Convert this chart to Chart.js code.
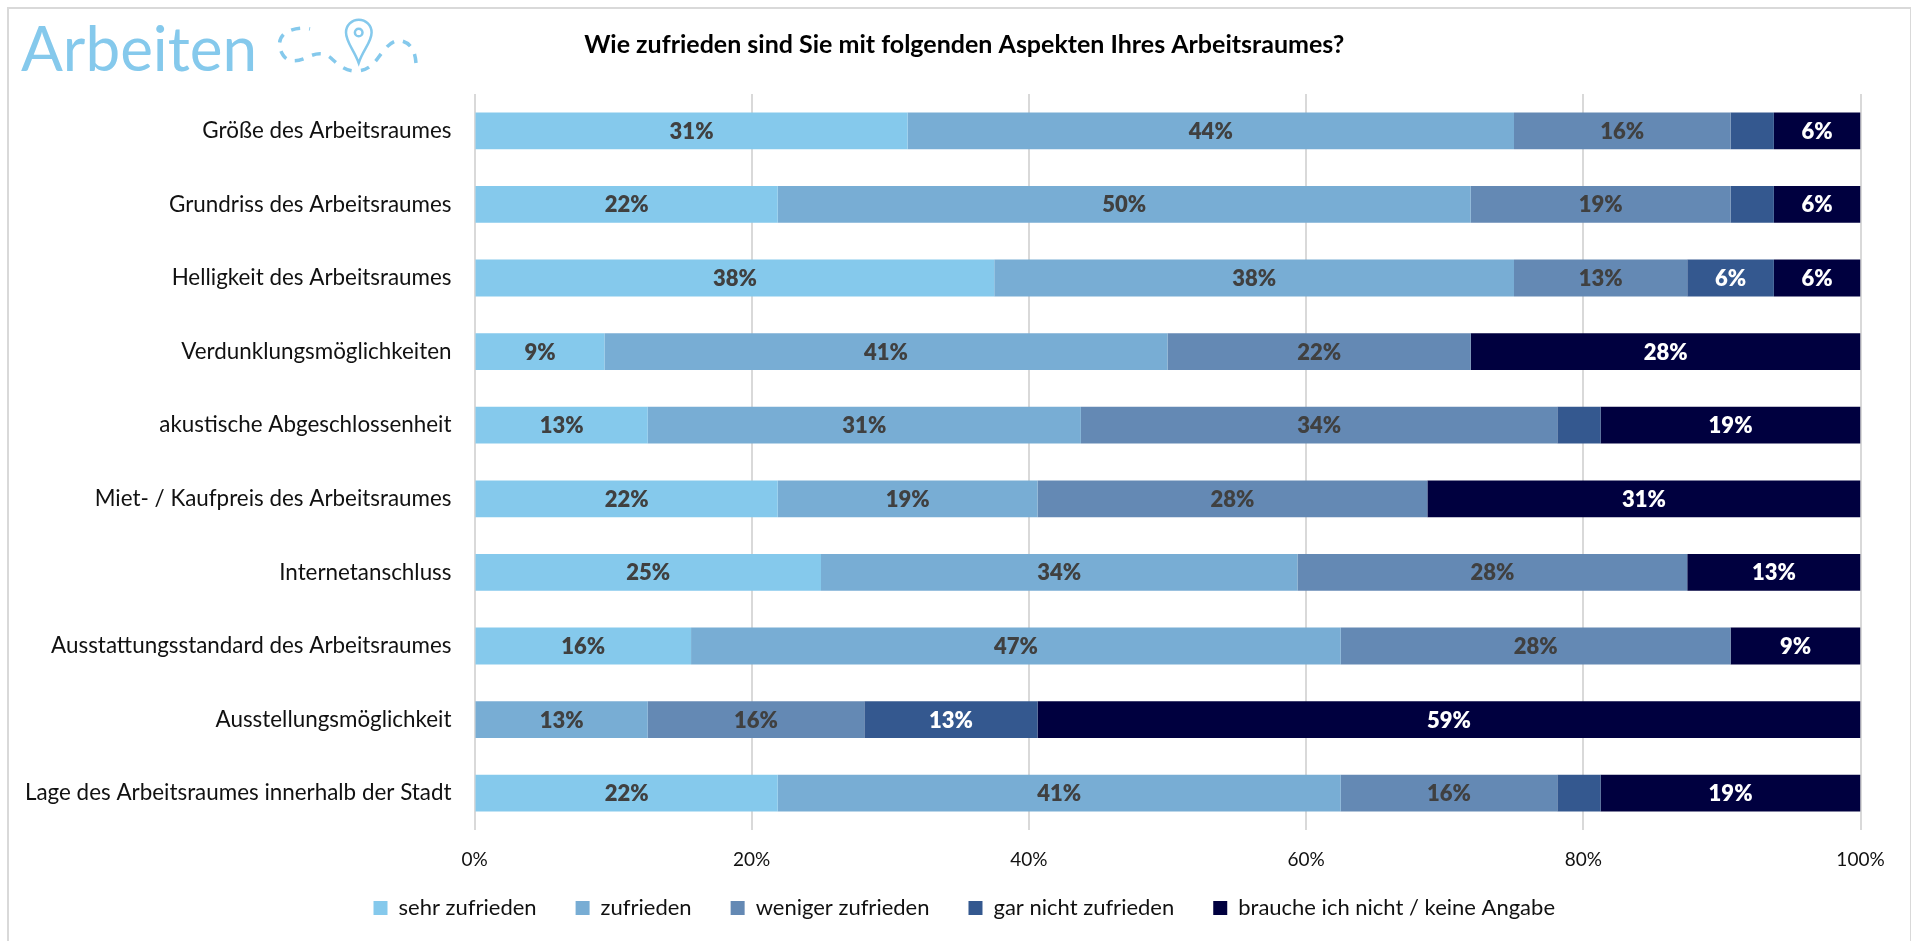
<!DOCTYPE html>
<html lang="de">
<head>
    <meta charset="UTF-8">
    <title>Arbeiten - Zufriedenheit mit dem Arbeitsraum</title>
    <script src="https://cdn.jsdelivr.net/npm/chart.js"></script>
    <style>
        html, body { margin: 0; background: #fff; overflow: hidden; }
        #wrap { position: relative; width: 1913px; height: 941px; }
        #frame {
            position: absolute; left: 7px; top: 7px; width: 1904px; height: 934px;
            border: solid #d9d9d9; border-width: 2px 1px 0 2px; box-sizing: border-box;
        }
        #logo {
            position: absolute; left: 21px; top: 8px;
            font: 400 62px Lato, sans-serif; color: #85c9ec; line-height: 78px;
        }
        #route { position: absolute; left: 0; top: 0; }
    </style>
</head>
<body>
<div id="wrap">
    <div id="frame"></div>
    <canvas id="chart" width="1913" height="941"></canvas>
    <div id="logo">Arbeiten</div>
    <svg id="route" width="440" height="80" fill="none" stroke="#85c9ec">
        <path d="M416 63 C415 50 410 43 402 41 C392 38 384 50 378 58 C372 66 366 71 356 71 C344 71 338 64 332 59 C326 53 318 52 308 57 C298 62 288 63 283 55 C277 46 279 36 287 32 C293 29 301 27 310 29"
              stroke-width="3.5" stroke-dasharray="9 9"/>
        <path d="M358.7 63 C354 50 346 42 346 32.5 A12.8 12.8 0 0 1 371.6 32.5 C371.6 42 363 50 358.7 63 Z" stroke-width="2.5"/>
        <circle cx="358.7" cy="32.5" r="3.8" stroke-width="2.5"/>
    </svg>
</div>

<script>
    const categories = [
        'Größe des Arbeitsraumes',
        'Grundriss des Arbeitsraumes',
        'Helligkeit des Arbeitsraumes',
        'Verdunklungsmöglichkeiten',
        'akustische Abgeschlossenheit',
        'Miet- / Kaufpreis des Arbeitsraumes',
        'Internetanschluss',
        'Ausstattungsstandard des Arbeitsraumes',
        'Ausstellungsmöglichkeit',
        'Lage des Arbeitsraumes innerhalb der Stadt'
    ];

    // Anteile in Prozent, eine Liste pro Antwort
    const sehrZufrieden = [31.25, 21.875, 37.5, 9.375, 12.5, 21.875, 25, 15.625, 0, 21.875];
    const zufrieden = [43.75, 50, 37.5, 40.625, 31.25, 18.75, 34.375, 46.875, 12.5, 40.625];
    const wenigerZufrieden = [15.625, 18.75, 12.5, 21.875, 34.375, 28.125, 28.125, 28.125, 15.625, 15.625];
    const garNichtZufrieden = [3.125, 3.125, 6.25, 0, 3.125, 0, 0, 0, 12.5, 3.125];
    const keineAngabe = [6.25, 6.25, 6.25, 28.125, 18.75, 31.25, 12.5, 9.375, 59.375, 18.75];

    const seriesNames = ['sehr zufrieden', 'zufrieden', 'weniger zufrieden', 'gar nicht zufrieden', 'brauche ich nicht / keine Angabe'];
    const seriesColors = ['#85c9ec', '#78add4', '#6489b4', '#34588f', '#00003f'];
    const seriesValues = [sehrZufrieden, zufrieden, wenigerZufrieden, garNichtZufrieden, keineAngabe];
    const labelColors = ['#404040', '#404040', '#404040', '#ffffff', '#ffffff'];

    const fontFamily = 'Lato, sans-serif';

    // Schmale Segmente bekommen keine Beschriftung
    const minLabelValue = 5;

    const barLabels = {
        id: 'barLabels',
        // Achsenbeschriftungen duerfen ueber die schmalen Achsenboxen hinausragen
        afterLayout(chart) {
            chart.scales.y.left = 0;
            chart.scales.x.bottom = chart.height;
        },
        afterDatasetsDraw(chart) {
            const ctx = chart.ctx;
            ctx.save();
            ctx.font = '800 22px ' + fontFamily;
            ctx.textAlign = 'center';
            ctx.textBaseline = 'middle';
            chart.data.datasets.forEach((dataset, i) => {
                chart.getDatasetMeta(i).data.forEach((bar, j) => {
                    const value = dataset.data[j];
                    if (value < minLabelValue) return;
                    const center = bar.getCenterPoint();
                    ctx.fillStyle = labelColors[i];
                    ctx.fillText(Math.round(value) + '%', center.x, center.y + 1);
                });
            });
            ctx.restore();
        }
    };

    new Chart(document.getElementById('chart'), {
        type: 'bar',
        data: {
            labels: categories,
            datasets: seriesNames.map((name, i) => ({
                label: name,
                data: seriesValues[i],
                backgroundColor: seriesColors[i],
                barPercentage: 1,
                categoryPercentage: 0.5
            }))
        },
        plugins: [barLabels],
        options: {
            indexAxis: 'y',
            responsive: false,
            animation: false,
            layout: { padding: { left: 68, right: 52.5, top: 0, bottom: 12 } },
            scales: {
                x: {
                    stacked: true,
                    min: 0,
                    max: 100,
                    grid: { color: '#d9d9d9', lineWidth: 2, drawTicks: false },
                    border: { display: false },
                    afterFit(scale) { scale.height = 28; },
                    ticks: {
                        stepSize: 20,
                        padding: 18,
                        color: '#111',
                        maxRotation: 0,
                        font: { family: fontFamily, size: 19 },
                        callback: value => value + '%'
                    }
                },
                y: {
                    stacked: true,
                    grid: { display: false },
                    border: { display: false },
                    afterFit(scale) { scale.width = 406.5; },
                    ticks: {
                        padding: 15,
                        color: '#111',
                        autoSkip: false,
                        font: { family: fontFamily, size: 22.4 }
                    }
                }
            },
            plugins: {
                title: {
                    display: true,
                    text: 'Wie zufrieden sind Sie mit folgenden Aspekten Ihres Arbeitsraumes?',
                    color: '#000',
                    font: { family: fontFamily, size: 25, weight: '700' },
                    padding: { top: 30, bottom: 34 }
                },
                legend: {
                    position: 'bottom',
                    labels: {
                        color: '#111',
                        boxWidth: 14,
                        boxHeight: 14,
                        padding: 39,
                        font: { family: fontFamily, size: 22 }
                    }
                },
                tooltip: { enabled: false }
            }
        }
    });
</script>
</body>
</html>
